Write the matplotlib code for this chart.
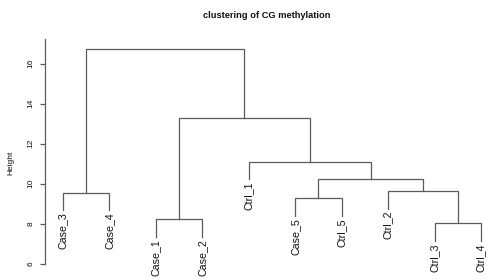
import matplotlib
matplotlib.use("Agg")
import matplotlib.pyplot as plt

plt.rcParams["font.family"] = ["Liberation Sans", "DejaVu Sans"]

# leaf order as drawn, left to right
labels = ["Case_3", "Case_4", "Case_1", "Case_2", "Ctrl_1",
          "Case_5", "Ctrl_5", "Ctrl_2", "Ctrl_3", "Ctrl_4"]

# merges: a leaf name or the number (1-based) of an earlier merge
merge_left = ["Ctrl_3", "Case_1", "Case_5", "Case_3", "Ctrl_2", 3, "Ctrl_1", 2, 4]
merge_right = ["Ctrl_4", "Case_2", "Ctrl_5", "Case_4", 1, 5, 6, 7, 8]
heights = [8.02, 8.23, 9.27, 9.55, 9.63, 10.22, 11.1, 13.27, 16.73]

y_ticks = [6, 8, 10, 12, 14, 16]

line_col = "#5a5a5a"
W, H = 492, 280

fig = plt.figure(figsize=(W / 100, H / 100), dpi=100)
ax = fig.add_axes([45 / W, 0, 453 / W, 241 / H])

hang = 0.1 * (max(heights) - min(heights))
leaf_x = {lab: i + 1 for i, lab in enumerate(labels)}
node_x = {}


def child_pos(c, h):
    if isinstance(c, str):
        return leaf_x[c], h - hang
    return node_x[c], heights[c - 1]


for k, (a, b, h) in enumerate(zip(merge_left, merge_right, heights), start=1):
    xa, ya = child_pos(a, h)
    xb, yb = child_pos(b, h)
    ax.plot([xa, xa, xb, xb], [ya, h, h, yb], color=line_col, lw=0.9,
            solid_joinstyle="miter")
    node_x[k] = (xa + xb) / 2
    for c, xc, yc in ((a, xa, ya), (b, xb, yb)):
        if isinstance(c, str):
            ax.text(xc, yc - 0.12, c, rotation=90, ha="center", va="top",
                    fontsize=7.7, color="#111111")

ax.set_xlim(0.612, 10.366)
ax.set_ylim(5.185, 17.235)
ax.set_xticks([])
ax.set_yticks(y_ticks)
ax.set_yticklabels([str(t) for t in y_ticks])
for s in ("top", "right", "bottom"):
    ax.spines[s].set_visible(False)
ax.spines["left"].set_bounds(6, 17.235)
ax.spines["left"].set_color(line_col)
ax.spines["left"].set_linewidth(0.9)
ax.tick_params(axis="y", direction="out", length=3.6, width=0.9,
               color=line_col, pad=4, labelsize=6, labelcolor="#111111")
plt.setp(ax.get_yticklabels(), rotation=90, va="center")

fig.text(10.5 / W, 1 - 162.5 / H, "Height", rotation=90, ha="center",
         va="center", fontsize=6, color="#111111")
fig.text(267 / W, 1 - 15 / H, "clustering of CG methylation", ha="center",
         va="center", fontsize=6.7, fontweight="bold", color="#111111")

fig.savefig("out.png", dpi=100)
